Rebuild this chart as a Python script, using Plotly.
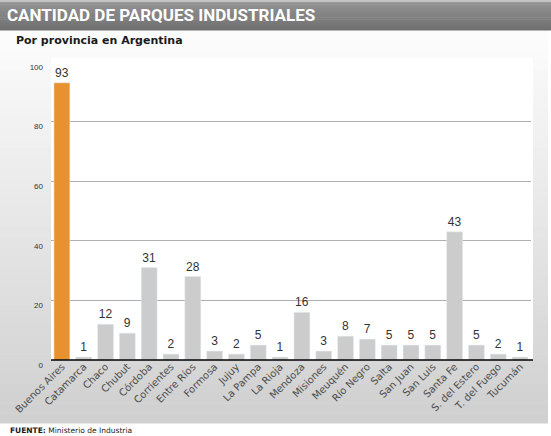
import plotly.graph_objects as go

# data
provincias = ['Buenos Aires', 'Catamarca', 'Chaco', 'Chubut', 'Córdoba', 'Corrientes',
              'Entre Ríos', 'Formosa', 'Jujuy', 'La Pampa', 'La Rioja', 'Mendoza',
              'Misiones', 'Meuquén', 'Río Negro', 'Salta', 'San Juan', 'San Luis',
              'Santa Fe', 'S. del Estero', 'T. del Fuego', 'Tucumán']
parques = [93, 1, 12, 9, 31, 2, 28, 3, 2, 5, 1, 16, 3, 8, 7, 5, 5, 5, 43, 5, 2, 1]
y_ticks = [0, 20, 40, 60, 80, 100]

W, H = 551, 436
L, R, T, B = 51, 531, 62, 360


def px(x):
    return (x - L) / (R - L)


def py(y):
    return (B - y) / (B - T)


def mix(c1, c2, f):
    return '#%02x%02x%02x' % tuple(int(round(a + (b - a) * f)) for a, b in zip(c1, c2))


bar_colors = ['#e8912f'] + ['#cccccc'] * (len(provincias) - 1)

fig = go.Figure(go.Bar(
    x=provincias, y=parques,
    marker_color=bar_colors,
    text=parques, textposition='outside', cliponaxis=False,
    textfont=dict(family='Liberation Sans, Arial', size=12, color='#333333'),
    hoverinfo='skip',
))

shapes = []
# grey panel with vertical gradient
n = 40
y0, y1 = 30, 423
for i in range(n):
    a = y0 + (y1 - y0) * i / n
    b = y0 + (y1 - y0) * (i + 1) / n
    shapes.append(dict(type='rect', xref='paper', yref='paper', layer='below',
                       x0=px(0), x1=px(548), y0=py(a), y1=py(b + 0.5), line_width=0,
                       fillcolor=mix((252, 252, 252), (208, 208, 208), i / (n - 1))))
# title bar gradient
m = 14
for i in range(m):
    a = 30 * i / m
    b = 30 * (i + 1) / m
    shapes.append(dict(type='rect', xref='paper', yref='paper', layer='below',
                       x0=px(0), x1=px(W), y0=py(a), y1=py(b + 0.5), line_width=0,
                       fillcolor=mix((150, 150, 150), (112, 112, 112), i / (m - 1))))
shapes.append(dict(type='rect', xref='paper', yref='paper', layer='below',
                   x0=px(0), x1=px(W), y0=py(0), y1=py(2), line_width=0, fillcolor='#c4c4c4'))
# white plot area
shapes.append(dict(type='rect', xref='paper', yref='paper', layer='below',
                   x0=0, x1=px(533), y0=0, y1=py(58), line_width=0, fillcolor='#ffffff'))
# axis line at 0 running to the right edge of the white area
shapes.append(dict(type='line', xref='paper', yref='paper', layer='above',
                   x0=0, x1=px(533), y0=0, y1=0, line=dict(color='#000000', width=1.5)))

annotations = [
    dict(text='<b>CANTIDAD DE PARQUES INDUSTRIALES</b>', xref='paper', yref='paper',
         x=px(5), y=py(15), xanchor='left', yanchor='middle', showarrow=False,
         font=dict(family='Roboto', size=17, color='#ffffff')),
    dict(text='<b>Por provincia en Argentina</b>', xref='paper', yref='paper',
         x=px(14), y=py(40), xanchor='left', yanchor='middle', showarrow=False,
         font=dict(family='DejaVu Sans', size=11, color='#1a1a1a')),
    dict(text='<b>FUENTE:</b> Ministerio de Industria', xref='paper', yref='paper',
         x=px(8), y=py(430), xanchor='left', yanchor='middle', showarrow=False,
         font=dict(family='DejaVu Sans', size=7.5, color='#1a1a1a')),
]

fig.update_layout(
    width=W, height=H,
    margin=dict(l=L, r=W - R, t=T, b=H - B, pad=0, autoexpand=False),
    paper_bgcolor='#ffffff', plot_bgcolor='rgba(0,0,0,0)',
    showlegend=False, bargap=0.27,
    shapes=shapes, annotations=annotations,
    xaxis=dict(tickangle=-45, showgrid=False, ticks='', showline=False, automargin=False,
               ticklabelstandoff=-2,
               tickfont=dict(family='DejaVu Sans', size=10, color='#4d4d4d')),
    yaxis=dict(range=[0, 100], tickvals=y_ticks, showgrid=True, gridcolor='#b0b0b0',
               gridwidth=1, zeroline=False, automargin=False,
               showline=False, ticks='', ticklabelstandoff=7, ticklabelshift=5,
               tickfont=dict(family='Liberation Sans Narrow, Liberation Sans', size=8,
                             color='#333333')),
)

# drop the default page margin so the figure sits at the window corner
fig.write_html("out.html", config={'displayModeBar': False},
               post_script="document.body.style.margin='0';")
